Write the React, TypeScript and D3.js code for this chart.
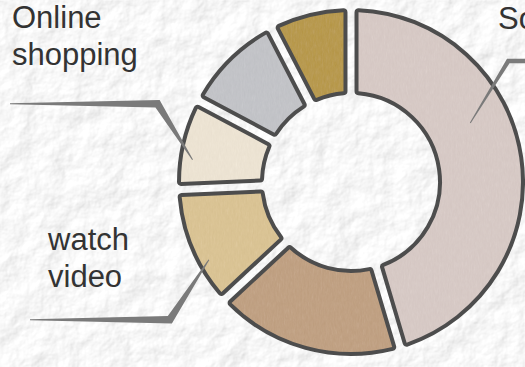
import React from 'react';
import * as d3 from 'd3';

// ---- data (clockwise from 12 o'clock) ----
const categories = ['Social', 'Games', 'watch video', 'Online shopping', 'Music', 'Reading'];
const values = [454, 177, 112, 85, 96, 76];
const colors = ['#dacdc9', '#c4a68a', '#ddc79a', '#efe6d6', '#c6c7cb', '#bc9f5c'];
const labelled = ['Social', 'watch video', 'Online shopping'];

const W = 525;
const H = 367;
const CX = 351;
const CY = 182;
const R_OUT = 172;
const R_IN = 89;
const DEG = Math.PI / 180;

type Layout = {
  angleOffset: number;
  tipR: number;
  elbow: [number, number];
  endX: number;
  widths: [number, number, number];
  textX: number;
  textDy: number;
};

const labelLayout: Record<string, Layout> = {
  'Online shopping': { angleOffset: -4.8, tipR: 160, elbow: [-35, -56], endX: 10, widths: [1, 7.5, 1], textX: 12, textDy: -39 },
  'watch video': { angleOffset: -6, tipR: 162, elbow: [-39, 60], endX: 30, widths: [1, 7.5, 1], textX: 48, textDy: -33 },
  Social: { angleOffset: -18, tipR: 133, elbow: [38, -62], endX: 545, widths: [4.5, 4.5, 1], textX: 498, textDy: -32 },
};

function polar(a: number, r: number): [number, number] {
  return [CX + r * Math.sin(a), CY - r * Math.cos(a)];
}

function brush(pts: [number, number][], widths: number[]): string {
  const n = pts.length;
  const left: [number, number][] = [];
  const right: [number, number][] = [];
  const segNormal = (i: number): [number, number] => {
    const dx = pts[i + 1][0] - pts[i][0];
    const dy = pts[i + 1][1] - pts[i][1];
    const l = Math.hypot(dx, dy) || 1;
    return [-dy / l, dx / l];
  };
  for (let i = 0; i < n; i++) {
    let nx: number, ny: number, scale = 1;
    if (i === 0) [nx, ny] = segNormal(0);
    else if (i === n - 1) [nx, ny] = segNormal(n - 2);
    else {
      const a = segNormal(i - 1);
      const b = segNormal(i);
      nx = a[0] + b[0];
      ny = a[1] + b[1];
      const l = Math.hypot(nx, ny) || 1;
      nx /= l;
      ny /= l;
      scale = 1 / Math.max(0.3, nx * a[0] + ny * a[1]);
    }
    const h = (widths[i] / 2) * scale;
    left.push([pts[i][0] + nx * h, pts[i][1] + ny * h]);
    right.push([pts[i][0] - nx * h, pts[i][1] - ny * h]);
  }
  const all = left.concat(right.reverse());
  return 'M' + all.map((p) => p[0].toFixed(2) + ',' + p[1].toFixed(2)).join('L') + 'Z';
}

export default function App() {
  const pie = d3.pie<number>().sort(null).value((d) => d);
  const arcs = pie(values);
  const arcGen = d3
    .arc<d3.PieArcDatum<number>>()
    .innerRadius(R_IN)
    .outerRadius(R_OUT)
    .padAngle(0.057)
    .cornerRadius(2);

  const labels = arcs
    .map((a, i) => ({ a, name: categories[i] }))
    .filter((d) => labelled.includes(d.name))
    .map(({ a, name }) => {
      const L = labelLayout[name];
      const mid = (a.startAngle + a.endAngle) / 2 + L.angleOffset * DEG;
      const tip = polar(mid, L.tipR);
      const elbow: [number, number] = [tip[0] + L.elbow[0], tip[1] + L.elbow[1]];
      const end: [number, number] = [L.endX, elbow[1]];
      const path = brush([end, elbow, tip], L.widths);
      const lines = name === 'Social' ? [name] : name.split(' ');
      const lastBase = elbow[1] + L.textDy;
      return { name, path, lines, x: L.textX, lastBase };
    });

  return (
    <svg
      width={W}
      height={H}
      viewBox={`0 0 ${W} ${H}`}
      style={{ position: 'absolute', left: 0, top: 0, display: 'block' }}
    >
      <defs>
        <filter id="paper" filterUnits="userSpaceOnUse" x="0" y="0" width={W} height={H}>
          <feTurbulence type="fractalNoise" baseFrequency="0.035" numOctaves="5" seed="7" result="noise" />
          <feDiffuseLighting in="noise" surfaceScale="2.2" diffuseConstant="1.08" lightingColor="#ffffff" result="lit">
            <feDistantLight azimuth="225" elevation="60" />
          </feDiffuseLighting>
        </filter>
        <filter id="grain" x="-10%" y="-10%" width="120%" height="120%">
          <feTurbulence type="fractalNoise" baseFrequency="0.6 0.15" numOctaves="3" seed="3" result="n" />
          <feColorMatrix in="n" type="saturate" values="0" result="g" />
          <feComposite in="SourceGraphic" in2="g" operator="arithmetic" k1="0" k2="1" k3="0.12" k4="-0.06" result="c" />
          <feComposite in="c" in2="SourceGraphic" operator="in" />
        </filter>
      </defs>
      <rect x={0} y={0} width={W} height={H} fill="#eeeeee" filter="url(#paper)" />
      <g transform={`translate(${CX},${CY})`}>
        {arcs.map((a, i) => (
          <path key={'f' + i} d={arcGen(a) || ''} fill={colors[i]} filter="url(#grain)" />
        ))}
        {arcs.map((a, i) => (
          <path
            key={'s' + i}
            d={arcGen(a) || ''}
            fill="none"
            stroke="#4d4d4d"
            strokeWidth={4}
            strokeLinejoin="round"
          />
        ))}
      </g>
      {labels.map((l) => (
        <g key={l.name}>
          <path d={l.path} fill="#7a7a7a" />
          <text
            x={l.x}
            fontFamily="'Liberation Sans', Arial, sans-serif"
            fontSize={31}
            fill="#333333"
          >
            {l.lines.map((t, j) => (
              <tspan key={j} x={l.x} y={l.lastBase - 37 * (l.lines.length - 1 - j)}>
                {t}
              </tspan>
            ))}
          </text>
        </g>
      ))}
    </svg>
  );
}
